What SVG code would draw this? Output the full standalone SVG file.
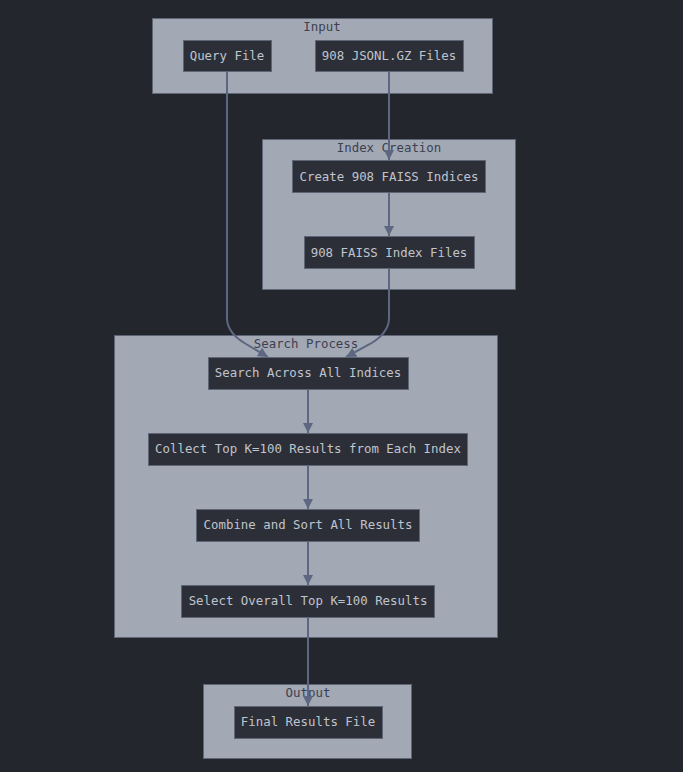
<svg xmlns="http://www.w3.org/2000/svg" width="683" height="772" viewBox="0 0 683 772">
<style>
.cluster{fill:#a3a8b5;stroke:#5e6577;stroke-width:1}
.clabel{font-family:"DejaVu Sans Mono","Liberation Mono",monospace;font-size:12.4px;fill:#3c4150;text-anchor:middle}
.node rect{fill:#2c2f38;stroke:#5e6577;stroke-width:1}
.node text{font-family:"DejaVu Sans Mono","Liberation Mono",monospace;font-size:12.4px;fill:#c0c4cc;text-anchor:middle}
.edge{fill:none;stroke:#5e6781;stroke-width:2}
</style>
<defs>
<marker id="arrow" viewBox="0 0 10 10" refX="10" refY="5" markerWidth="10" markerHeight="10" markerUnits="userSpaceOnUse" orient="auto">
<path d="M0,0 L10,5 L0,10 z" fill="#5e6781"/>
</marker>
</defs>
<rect width="683" height="772" fill="#24262d"/>
<g id="cluster-input"><rect class="cluster" x="152.5" y="18.5" width="340" height="75"/><text class="clabel" x="322" y="31">Input</text></g>
<g id="cluster-index"><rect class="cluster" x="262.5" y="139.5" width="253" height="150"/><text class="clabel" x="389" y="152">Index Creation</text></g>
<g id="cluster-search"><rect class="cluster" x="114.5" y="335.5" width="383" height="302"/><text class="clabel" x="306" y="348">Search Process</text></g>
<g id="cluster-output"><rect class="cluster" x="203.5" y="684.5" width="208" height="74"/><text class="clabel" x="308" y="697">Output</text></g>
<g id="edges">
<path class="edge" d="M227,71 L227,318 Q227,333 246,344 L268,357" marker-end="url(#arrow)"/>
<path class="edge" d="M389,71 L389,160" marker-end="url(#arrow)"/>
<path class="edge" d="M389,192 L389,236" marker-end="url(#arrow)"/>
<path class="edge" d="M389,268 L389,318 Q389,333 370,344 L346,357" marker-end="url(#arrow)"/>
<path class="edge" d="M308,389 L308,433" marker-end="url(#arrow)"/>
<path class="edge" d="M308,465 L308,509" marker-end="url(#arrow)"/>
<path class="edge" d="M308,541 L308,585" marker-end="url(#arrow)"/>
<path class="edge" d="M308,617 L308,706" marker-end="url(#arrow)"/>
</g>
<g id="query-file" class="node"><rect x="183.5" y="40.5" width="88" height="31"/><text x="227" y="59.5">Query File</text></g>
<g id="jsonl-files" class="node"><rect x="315.5" y="40.5" width="148" height="31"/><text x="389" y="59.5">908 JSONL.GZ Files</text></g>
<g id="create-indices" class="node"><rect x="292.5" y="160.5" width="193" height="32"/><text x="389" y="180.5">Create 908 FAISS Indices</text></g>
<g id="index-files" class="node"><rect x="304.5" y="236.5" width="170" height="32"/><text x="389" y="256.5">908 FAISS Index Files</text></g>
<g id="search-all" class="node"><rect x="208.5" y="357.5" width="200" height="32"/><text x="308" y="376.5">Search Across All Indices</text></g>
<g id="collect-top" class="node"><rect x="148.5" y="433.5" width="319" height="32"/><text x="308" y="452.5">Collect Top K=100 Results from Each Index</text></g>
<g id="combine-sort" class="node"><rect x="196.5" y="509.5" width="223" height="32"/><text x="308" y="528.5">Combine and Sort All Results</text></g>
<g id="select-top" class="node"><rect x="181.5" y="585.5" width="253" height="32"/><text x="308" y="604.5">Select Overall Top K=100 Results</text></g>
<g id="final-results" class="node"><rect x="234.5" y="706.5" width="148" height="32"/><text x="308" y="725.5">Final Results File</text></g>
</svg>
